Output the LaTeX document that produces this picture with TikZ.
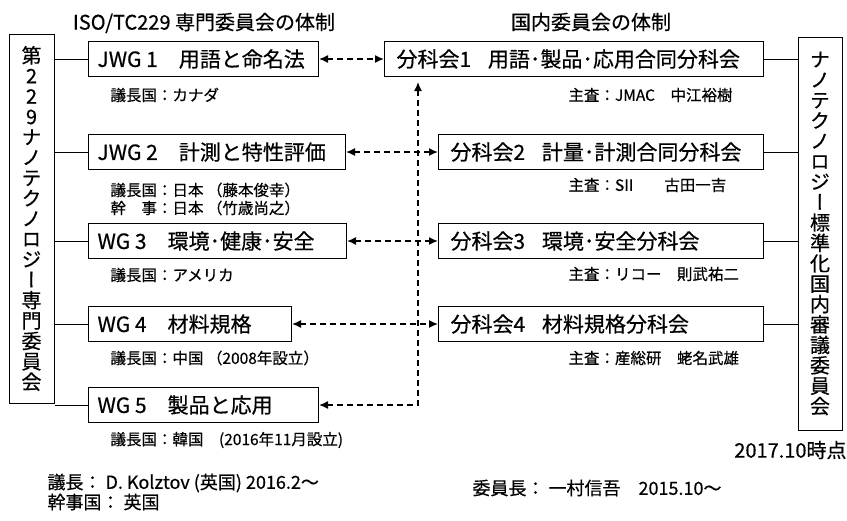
\documentclass[tikz,border=0pt]{standalone}
\usepackage{fontspec}
\setmainfont{Noto Sans CJK JP}[FakeBold=0.5]
\newfontfamily\tatefont{Noto Sans CJK JP}[RawFeature=+vert,FakeBold=0.5]
\usetikzlibrary{arrows.meta,positioning}

\begin{document}
\begin{tikzpicture}[x=1pt,y=-1pt,line width=1pt,
		wgbox/.style={draw,anchor=west,minimum height=35pt,inner xsep=9pt,inner ysep=0pt,
			font=\fontsize{21}{25}\selectfont},
		bunbox/.style={wgbox,inner xsep=12pt},
		note/.style={anchor=west,inner sep=0pt,align=left,font=\fontsize{15.5}{18}\selectfont},
		title/.style={inner sep=0pt,font=\fontsize{20}{24}\selectfont},
		foot/.style={note,font=\fontsize{18}{20}\selectfont},
		tate/.style={draw,inner sep=0pt,align=center,font=\tatefont\fontsize{20}{20.4}\selectfont},
		dlink/.style={dash pattern=on 6pt off 4pt,line width=1.5pt,
			{Latex[length=9pt,width=8pt]}-{Latex[length=9pt,width=8pt]}}]
		\useasboundingbox (0,0) rectangle (847,520);
		% titles
		\node[title] (isotitle) at (204,23) {ISO/TC229 専門委員会の体制};
		\node[title] (jptitle) at (591,22) {国内委員会の体制};
		% vertical committees
		\node[tate,minimum width=45pt,minimum height=369pt] (tc) at (31.5,218.5)
			{第\\2\\2\\9\\ナ\\ノ\\テ\\ク\\ノ\\ロ\\ジ\\ー\\専\\門\\委\\員\\会};
		\node[tate,minimum width=44pt,minimum height=393pt] (nc) at (820,233.5)
			{ナ\\ノ\\テ\\ク\\ノ\\ロ\\ジ\\ー\\標\\準\\化\\国\\内\\審\\議\\委\\員\\会};
		% working groups
		\foreach \name/\y/\w/\txt in {%
			jwg1/59/212/JWG 1\hspace{1em}用語と命名法,%
			jwg2/152/239/JWG 2\hspace{1em}計測と特性評価,%
			wg3/241/240/WG 3\hspace{1em}環境･健康･安全,%
			wg4/324/185/WG 4\hspace{1em}材料規格,%
			wg5/405/212/WG 5\hspace{1em}製品と応用%
			} {%
			\node[wgbox] (\name) at (88,\y) {\makebox[\w pt][l]{\txt}};
			\draw (tc.east |- \name.west) -- (\name.west);
		}
		% domestic subcommittees
		\foreach \name/\x/\y/\w/\txt in {%
			bun1/384/59/355/分科会1\hspace{0.8em}用語･製品･応用合同分科会,%
			bun2/438/152/301/分科会2\hspace{0.8em}計量･計測合同分科会,%
			bun3/438/241/301/分科会3\hspace{0.8em}環境･安全分科会,%
			bun4/438/324/301/分科会4\hspace{0.8em}材料規格分科会%
			} {%
			\node[bunbox] (\name) at (\x,\y) {\makebox[\w pt][l]{\txt}};
			\draw (\name.east) -- (nc.west |- \name.east);
		}
		% notes
		\node[note] (jwg1note) at (110,95) {議長国：カナダ};
		\node[note] (jwg2note) at (110,199) {議長国：日本 （藤本俊幸）\\幹　事：日本 （竹歳尚之）};
		\node[note] (wg3note) at (110,275) {議長国：アメリカ};
		\node[note] (wg4note) at (110,358) {議長国：中国 （2008年設立）};
		\node[note] (wg5note) at (110,440) {議長国：韓国　(2016年11月設立)};
		\node[note] (bun1note) at (568,95) {主査：JMAC　中江裕樹};
		\node[note] (bun2note) at (568,185) {主査：SII　　古田一吉};
		\node[note] (bun3note) at (568,274) {主査：リコー　則武祐二};
		\node[note] (bun4note) at (568,358) {主査：産総研　蛯名武雄};
		% liaisons
		\draw[dlink] (jwg1) -- (bun1);
		\draw[dlink] (jwg2) -- (bun2);
		\draw[dlink] (wg3) -- (bun3);
		\draw[dlink] (wg4) -- (bun4);
		\coordinate (riser) at (418,0);
		\draw[dlink,shorten >=5pt] (wg5.east) -| (riser |- bun1.south);
		% footer
		\node[inner sep=0pt,anchor=east,font=\fontsize{20}{24}\selectfont] (asof) at (847,450) {2017.10時点};
		\node[foot] (chair) at (47,483) {議長： D. Kolztov (英国) 2016.2～};
		\node[foot] (secr) at (47,502) {幹事国： 英国};
		\node[foot] (jpchair) at (472,488) {委員長： 一村信吾　2015.10～};
	\end{tikzpicture}
\end{document}
